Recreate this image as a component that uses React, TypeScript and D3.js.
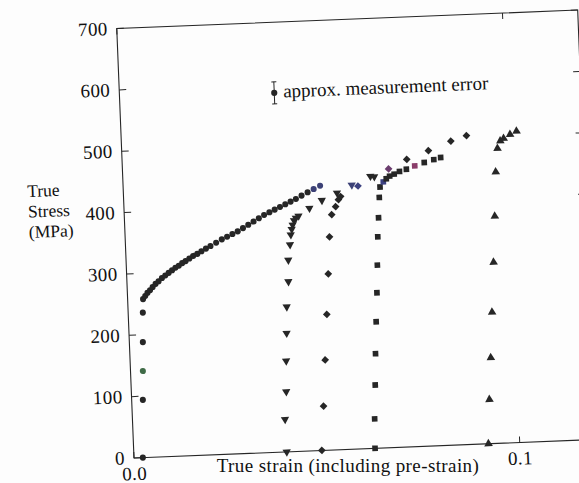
import React, { useEffect, useRef } from 'react';
import * as d3 from 'd3';

// [strain, stress MPa]
const circles: [number, number][] = [
  [0.0023, 0], [0.0029, 94], [0.0032, 141], [0.0035, 188], [0.0038, 236],
  [0.0040, 258], [0.0046, 263], [0.0052, 268], [0.0059, 272], [0.0066, 277],
  [0.0074, 282], [0.0082, 286], [0.0091, 291], [0.0100, 295], [0.0109, 299],
  [0.0118, 303], [0.0127, 307], [0.0136, 310], [0.0145, 314], [0.0154, 317],
  [0.0164, 321], [0.0174, 325], [0.0185, 328], [0.0196, 332], [0.0208, 336],
  [0.0220, 340], [0.0235, 345], [0.0250, 350], [0.0264, 354], [0.0278, 358],
  [0.0292, 362], [0.0306, 367], [0.0320, 372], [0.0334, 377], [0.0348, 382],
  [0.0362, 387], [0.0376, 391], [0.0390, 395], [0.0404, 399], [0.0418, 403],
  [0.0432, 407], [0.0446, 411], [0.0461, 416], [0.0477, 421], [0.0493, 426],
  [0.0510, 431],
];

const downTriangles: [number, number][] = [
  [0.0396, 0], [0.0395, 53], [0.0401, 98], [0.0404, 148], [0.0408, 193],
  [0.0411, 236], [0.0418, 277], [0.0420, 312], [0.0426, 337], [0.0429, 353],
  [0.0432, 362], [0.0435, 369], [0.0439, 376], [0.0444, 380], [0.0451, 383],
  [0.0480, 395], [0.0513, 407], [0.0553, 418], [0.0592, 430], [0.0641, 443],
  [0.0651, 442],
];

const diamonds: [number, number][] = [
  [0.0487, 0], [0.0496, 72], [0.0505, 147], [0.0514, 221], [0.0522, 287],
  [0.0529, 347], [0.0537, 383], [0.0548, 396], [0.0556, 407], [0.0562, 412],
  [0.0608, 428], [0.0689, 454], [0.0737, 468], [0.0794, 481], [0.0853, 495],
  [0.0894, 503],
];

const squares: [number, number][] = [
  [0.0625, 0], [0.0627, 48], [0.0632, 103], [0.0636, 154], [0.0641, 206],
  [0.0646, 253], [0.0650, 298], [0.0654, 344], [0.0658, 375], [0.0662, 408],
  [0.0665, 425], [0.0674, 433], [0.0682, 438], [0.0691, 442], [0.0703, 445],
  [0.0717, 449], [0.0735, 452], [0.0757, 457], [0.0782, 462], [0.0807, 466],
  [0.0825, 469],
];

const upTriangles: [number, number][] = [
  [0.0919, 0], [0.0926, 72], [0.0934, 140], [0.0942, 214], [0.0951, 295],
  [0.0959, 370], [0.0966, 442], [0.0973, 480], [0.0981, 492], [0.0990, 496],
  [0.1007, 502], [0.1024, 507],
];

const yTicks = [0, 100, 200, 300, 400, 500, 600, 700];
const xTicks = [0, 0.1];
const xTickLabels = ['0.0', '0.1'];
const yTitle = ['True', 'Stress', '(MPa)'];
const xTitle = 'True strain (including pre-strain)';
const legendLabel = 'approx. measurement error';
const legendPoint: [number, number] = [0.0401, 585];
const legendError = 18;

// a few points came out tinted in the scan
const tints: { series: string; index: number; color: string }[] = [
  { series: 'circle', index: 2, color: '#3f6b47' },
  { series: 'circle', index: 44, color: '#3c4176' },
  { series: 'circle', index: 45, color: '#3c4176' },
  { series: 'down', index: 18, color: '#3c4176' },
  { series: 'diamond', index: 10, color: '#3c4180' },
  { series: 'diamond', index: 11, color: '#6b3d6e' },
  { series: 'square', index: 11, color: '#3c4180' },
  { series: 'square', index: 17, color: '#8a3d6a' },
];

const App: React.FC = () => {
  const svgRef = useRef<SVGSVGElement>(null);

  useEffect(() => {
    if (!svgRef.current) return;
    const root = d3.select(svgRef.current);
    root.selectAll('*').remove();

    const ink = '#262626';
    const font = '"Liberation Serif", "Times New Roman", serif';

    // scanned page is slightly tilted
    const g = root.append('g').attr('transform', 'translate(134,458) rotate(-2.3)');

    const x = d3.scaleLinear().domain([0, 0.1195]).range([0, 461.3]);
    const y = d3.scaleLinear().domain([0, 700]).range([0, -429.8]);
    const x0 = x(0), x1 = x(0.1195), yTop = y(700), yBot = y(0);

    // frame
    g.append('rect')
      .attr('x', x0).attr('y', yTop)
      .attr('width', x1 - x0).attr('height', yBot - yTop)
      .attr('fill', 'none').attr('stroke', ink).attr('stroke-width', 1.1);

    // y ticks, inward on both sides
    g.append('g').selectAll('line.l').data(yTicks).join('line')
      .attr('x1', x0).attr('x2', x0 + 7)
      .attr('y1', d => y(d)).attr('y2', d => y(d))
      .attr('stroke', ink);
    g.append('g').selectAll('line.r').data(yTicks).join('line')
      .attr('x1', x1).attr('x2', x1 - 7)
      .attr('y1', d => y(d)).attr('y2', d => y(d))
      .attr('stroke', ink);

    g.append('g').selectAll('text').data(yTicks).join('text')
      .attr('x', -9).attr('y', d => y(d)).attr('dy', '0.32em')
      .attr('text-anchor', 'end')
      .attr('font-family', font).attr('font-size', 19).attr('letter-spacing', 0.4)
      .attr('fill', '#111')
      .text(d => String(d));

    // x ticks, inward on bottom and top
    g.append('g').selectAll('line.b').data(xTicks).join('line')
      .attr('x1', d => x(d)).attr('x2', d => x(d))
      .attr('y1', yBot).attr('y2', yBot - 6)
      .attr('stroke', ink);
    g.append('g').selectAll('line.t').data(xTicks).join('line')
      .attr('x1', d => x(d)).attr('x2', d => x(d))
      .attr('y1', yTop).attr('y2', yTop + 6)
      .attr('stroke', ink);

    g.append('g').selectAll('text').data(xTicks).join('text')
      .attr('x', d => x(d)).attr('y', 22)
      .attr('text-anchor', 'middle')
      .attr('font-family', font).attr('font-size', 19).attr('letter-spacing', 0.4)
      .attr('fill', '#111')
      .text((d, i) => xTickLabels[i]);

    // x title sits level under the axis
    root.append('text')
      .attr('x', 348).attr('y', 472)
      .attr('text-anchor', 'middle')
      .attr('font-family', font).attr('font-size', 19).attr('letter-spacing', 0.4)
      .attr('fill', '#111')
      .text(xTitle);

    g.append('g').selectAll('text').data(yTitle).join('text')
      .attr('x', -96).attr('y', (d, i) => -265 + i * 20.5)
      .attr('font-family', font).attr('font-size', 17.5).attr('fill', '#111')
      .text(d => d);

    // markers
    const tintOf = (series: string, i: number) =>
      tints.find(t => t.series === series && t.index === i)?.color ?? ink;

    const drawSeries = (
      data: [number, number][],
      series: string,
      type: d3.SymbolType,
      size: number,
      rotate: number,
    ) => {
      g.append('g').selectAll('path').data(data).join('path')
        .attr('d', d3.symbol().type(type).size(size)())
        .attr('transform', d => `translate(${x(d[0])},${y(d[1])}) rotate(${rotate})`)
        .attr('fill', (d, i) => tintOf(series, i));
    };

    drawSeries(circles, 'circle', d3.symbolCircle, 29, 0);
    drawSeries(downTriangles, 'down', d3.symbolTriangle, 30, 180);
    drawSeries(diamonds, 'diamond', d3.symbolSquare, 30, 45);
    drawSeries(squares, 'square', d3.symbolSquare, 32, 0);
    drawSeries(upTriangles, 'up', d3.symbolTriangle, 32, 0);

    // legend: point with error bar
    const lx = x(legendPoint[0]);
    const ly = y(legendPoint[1]);
    const eTop = y(legendPoint[1] + legendError);
    const eBot = y(legendPoint[1] - legendError);
    const leg = g.append('g');
    leg.append('line').attr('x1', lx).attr('x2', lx).attr('y1', eTop).attr('y2', eBot)
      .attr('stroke', ink);
    [eTop, eBot].forEach(v => {
      leg.append('line').attr('x1', lx - 2.5).attr('x2', lx + 2.5).attr('y1', v).attr('y2', v)
        .attr('stroke', ink);
    });
    leg.append('path')
      .attr('d', d3.symbol().type(d3.symbolCircle).size(30)())
      .attr('transform', `translate(${lx},${ly})`)
      .attr('fill', ink);
    leg.append('text')
      .attr('x', lx + 9).attr('y', ly + 5)
      .attr('font-family', font).attr('font-size', 19).attr('fill', '#111')
      .text(legendLabel);
  }, []);

  return (
    <svg
      ref={svgRef}
      width={579}
      height={483}
      style={{ position: 'absolute', left: 0, top: 0, background: '#fdfdfd' }}
    />
  );
};

export default App;
